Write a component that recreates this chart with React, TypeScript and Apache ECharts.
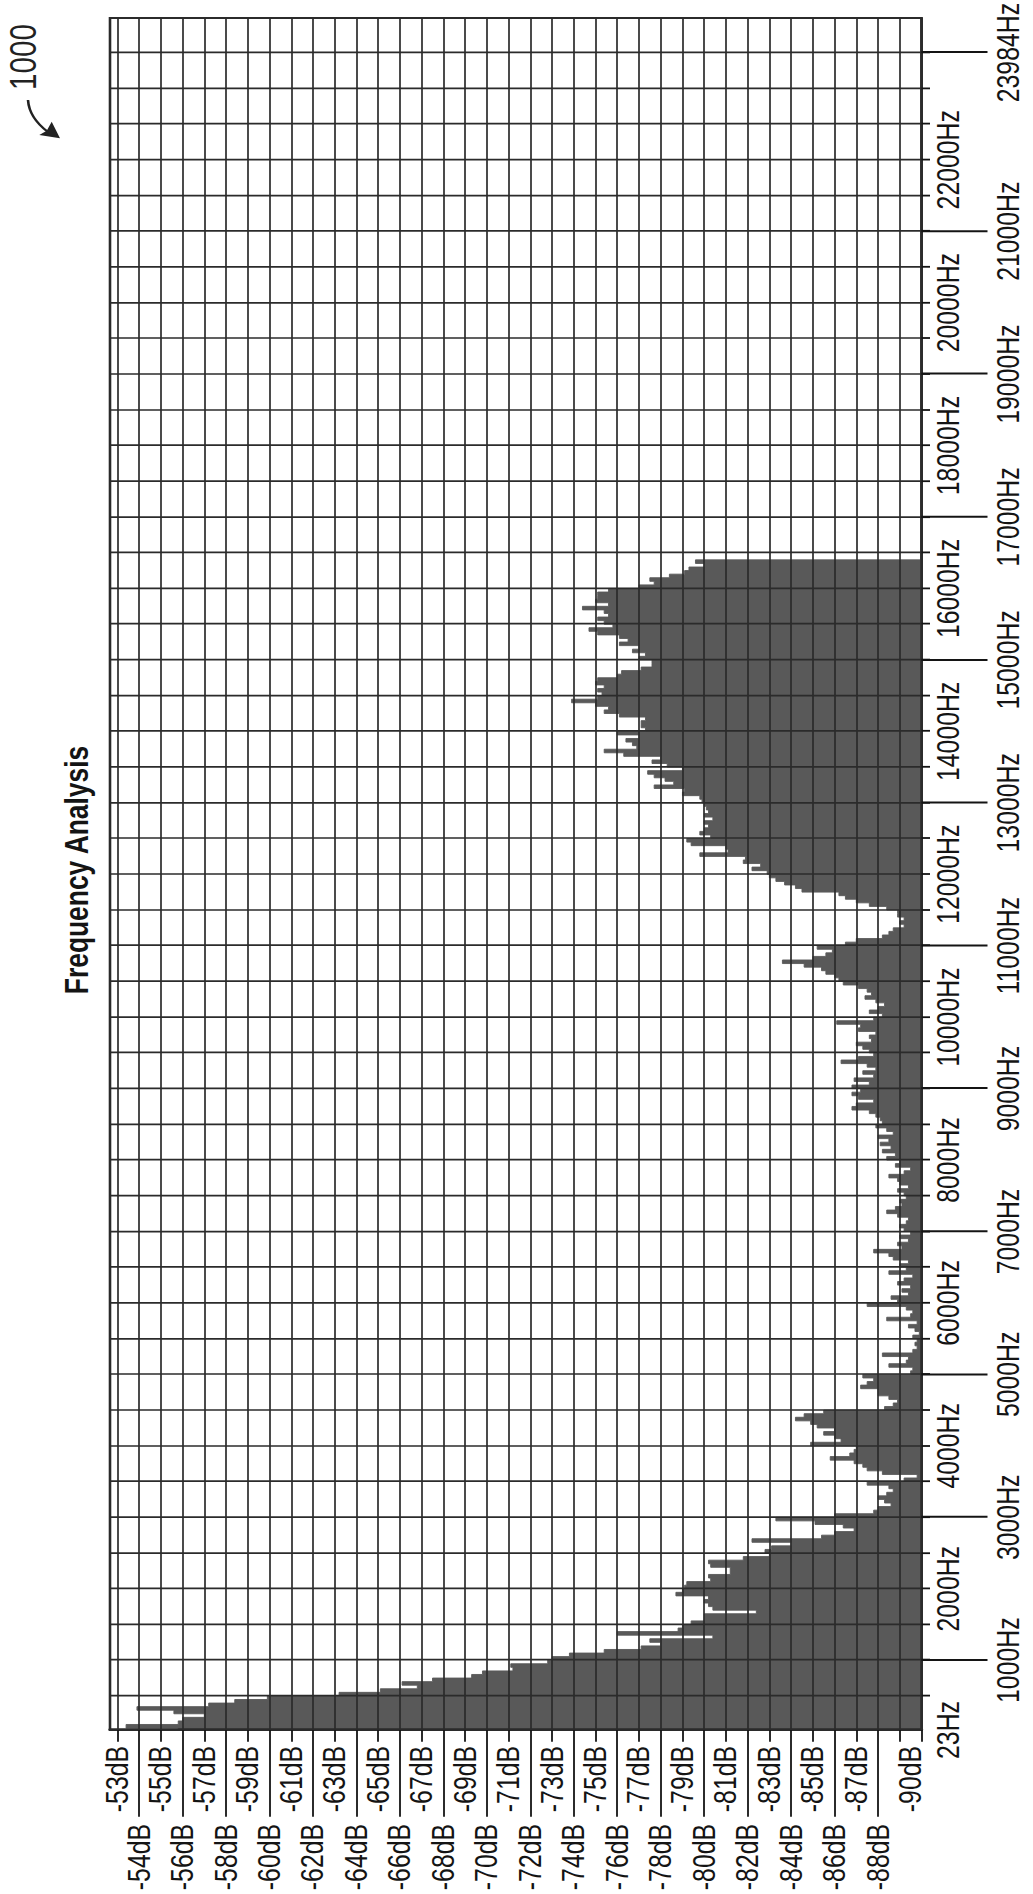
import React, { useEffect, useRef } from "react";
import * as echarts from "echarts";

// ---------------- data ----------------
const TITLE = "Frequency Analysis";
const FIGURE_REF = "1000";

const FREQ_MIN_HZ = 23;
const FREQ_MAX_HZ = 23984;
const DB_MIN = -90;
const DB_MAX = -52.66;
const BIN_WIDTH_HZ = 50;

// spectrum level (dB) of each 50 Hz bin; first bin starts at 0 Hz
const LEVELS_0_TO_5K = [
  -55.8, -53.4, -55.8, -56.0, -57.0, -55.6, -53.9, -57.2, -58.4, -59.9,
  -63.2, -65.1, -66.8, -66.1, -67.5, -69.3, -69.8, -71.2, -71.1, -72.8,
  -73.0, -73.8, -75.4, -77.1, -78.0, -77.5, -80.4, -76.0, -78.8, -79.0,
  -79.4, -80.0, -80.0, -82.4, -80.4, -80.2, -80.0, -80.2, -78.7, -79.0,
  -79.1, -79.2, -80.3, -80.2, -81.2, -81.2, -80.3, -80.2, -81.8, -83.0,
  -82.8, -83.1, -84.0, -82.2, -85.4, -86.0, -86.9, -86.4, -85.1, -83.3,
  -86.0, -87.8, -88.0, -88.6, -88.3, -88.0, -88.4, -88.7, -88.5, -87.5,
  -89.2, -89.8, -88.2, -87.5, -87.3, -86.9, -85.8, -86.7, -86.9, -87.0,
  -84.9, -86.3, -86.0, -85.5, -86.0, -85.2, -84.9, -84.2, -84.6, -85.5,
  -88.3, -88.7, -88.9, -88.5, -88.0, -88.0, -87.2, -87.5, -87.8, -87.3,
];
const LEVELS_5K_TO_10K = [
  -89.5, -89.6, -88.5, -89.3, -89.4, -88.2, -89.6, -89.8, -89.7, -89.8,
  -89.6, -89.9, -89.7, -89.4, -89.8, -88.4, -89.5, -89.6, -89.3, -87.5,
  -88.9, -88.6, -89.4, -89.1, -89.5, -88.9, -89.2, -89.6, -88.5, -89.3,
  -89.0, -89.4, -88.7, -88.5, -87.8, -89.1, -88.9, -89.4, -89.0, -89.5,
  -89.2, -89.0, -89.3, -89.4, -88.9, -88.4, -88.8, -89.1, -89.0, -89.3,
  -89.2, -88.9, -89.4, -89.0, -88.9, -88.5, -89.2, -89.5, -88.8, -89.0,
  -88.4, -88.8, -88.2, -88.6, -88.1, -88.5, -88.0, -88.7, -88.4, -87.9,
  -88.2, -88.1, -87.9, -87.6, -86.8, -87.0, -87.8, -87.1, -86.8, -87.2,
  -86.8, -87.6, -86.9, -87.8, -87.3, -87.9, -87.5, -86.3, -87.1, -87.8,
  -87.6, -87.3, -87.0, -87.7, -87.6, -87.9, -87.1, -87.2, -86.1, -87.8,
];
const LEVELS_10K_TO_16K4 = [
  -88.2, -87.6, -88.0, -88.3, -87.9, -87.4, -87.7, -87.5, -87.1, -86.4,
  -86.2, -86.0, -85.6, -85.4, -84.6, -83.6, -85.0, -85.6, -85.9, -85.2,
  -86.5, -87.0, -88.2, -88.5, -88.7, -89.2, -89.0, -89.2, -88.9, -88.9,
  -88.4, -87.6, -87.0, -86.5, -86.2, -84.5, -84.2, -83.7, -83.3, -83.0,
  -82.9, -82.2, -82.6, -81.8, -81.9, -79.8, -81.1, -81.0, -79.4, -79.2,
  -80.3, -79.8, -80.0, -80.2, -80.0, -80.4, -80.0, -80.2, -80.1, -80.0,
  -79.9, -79.8, -79.0, -79.1, -77.7, -78.6, -78.2, -77.7, -77.4, -79.0,
  -78.3, -77.6, -78.0, -76.3, -75.4, -76.9, -76.7, -76.4, -77.0, -76.0,
  -77.3, -77.1, -77.1, -77.3, -76.1, -75.4, -75.6, -75.0, -73.9, -75.1,
  -75.3, -75.1, -75.4, -75.0, -75.1, -76.0, -76.2, -77.1, -77.6, -77.6,
  -77.0, -77.3, -76.7, -77.0, -76.1, -76.5, -76.1, -75.1, -74.7, -75.8,
  -75.4, -75.1, -75.6, -75.4, -74.4, -75.6, -75.0, -75.1, -75.1, -75.6,
  -77.0, -77.7, -77.5, -78.4, -79.1, -79.3, -80.0, -79.6,
];

// tick positions and labels
const HZ_TICKS = [
  500, 1000, 1500, 2000, 2500, 3000, 3500, 4000, 4500, 5000, 5500, 6000,
  6500, 7000, 7500, 8000, 8500, 9000, 9500, 10000, 10500, 11000, 11500, 12000,
  12500, 13000, 13500, 14000, 14500, 15000, 15500, 16000, 16500, 17000, 17500,
  18000, 18500, 19000, 19500, 20000, 20500, 21000, 21500, 22000, 22500, 23000, 23500,
];
const HZ_INNER_LABELS = [23, 2000, 4000, 6000, 8000, 10000, 12000, 14000, 16000, 18000, 20000, 22000];
const HZ_OUTER_LABELS = [1000, 3000, 5000, 7000, 9000, 11000, 13000, 15000, 17000, 19000, 21000, 23500];
const HZ_OUTER_TEXT = ["1000Hz", "3000Hz", "5000Hz", "7000Hz", "9000Hz", "11000Hz", "13000Hz", "15000Hz", "17000Hz", "19000Hz", "21000Hz", "23984Hz"];
const DB_NEAR_TICKS = [-53, -55, -57, -59, -61, -63, -65, -67, -69, -71, -73, -75, -77, -79, -81, -83, -85, -87, -89, -90];
const DB_NEAR_LABELS = [-53, -55, -57, -59, -61, -63, -65, -67, -69, -71, -73, -75, -77, -79, -81, -83, -85, -87, -90];
const DB_FAR_LABELS = [-54, -56, -58, -60, -62, -64, -66, -68, -70, -72, -74, -76, -78, -80, -82, -84, -86, -88];

// ---------------- layout ----------------
const PAGE_W = 1033;
const PAGE_H = 1894;
const K = 0.8; // horizontal condensation of the chart frame (narrow type face)
const CW = PAGE_H / K;
const CH = PAGE_W;
const fx = (v: number) => v / K;

const FONT = "'Liberation Sans', Arial, Helvetica, sans-serif";
const INK = "#141414";
const GRID = "#2b2b2b";
const FILL = "#595959";
const FS = 31;

const labelStyle = { fontFamily: FONT, fontSize: FS, color: INK };

function buildOption() {
  const levels = [...LEVELS_0_TO_5K, ...LEVELS_5K_TO_10K, ...LEVELS_10K_TO_16K4];
  const data: number[][] = levels.map((v, i) => [i * BIN_WIDTH_HZ, v]);
  data.push([levels.length * BIN_WIDTH_HZ, DB_MIN]);

  const hzFmt = (v: number) => `${v}Hz`;
  const outerFmt = (v: number) => {
    const i = HZ_OUTER_LABELS.indexOf(v);
    return i >= 0 ? HZ_OUTER_TEXT[i] : `${v}Hz`;
  };

  return {
    animation: false,
    backgroundColor: "#ffffff",
    title: {
      text: TITLE,
      left: fx(1020),
      top: 55,
      textAlign: "center",
      textStyle: { fontFamily: FONT, fontWeight: "bold", fontSize: 33, color: INK },
    },
    grid: {
      left: fx(164),
      right: fx(18),
      top: 110,
      bottom: CH - 921.5,
      show: true,
      borderColor: GRID,
      borderWidth: 2.6,
      backgroundColor: "transparent",
      containLabel: false,
      outerBoundsMode: "none",
    },
    xAxis: [
      {
        type: "value",
        min: FREQ_MIN_HZ,
        max: FREQ_MAX_HZ,
        position: "bottom",
        z: 5,
        axisLine: { show: true, onZero: false, lineStyle: { color: GRID, width: 2.6 } },
        axisTick: { show: true, customValues: HZ_TICKS, length: 8.5, lineStyle: { color: INK, width: fx(1.8) } },
        splitLine: { show: true, lineStyle: { color: GRID, width: fx(1.7) } },
        axisLabel: { ...labelStyle, customValues: HZ_INNER_LABELS, margin: 11, formatter: hzFmt },
      },
      {
        type: "value",
        min: FREQ_MIN_HZ,
        max: FREQ_MAX_HZ,
        position: "bottom",
        z: 5,
        axisLine: { show: false, onZero: false },
        axisTick: { show: true, customValues: HZ_OUTER_LABELS, length: 66, lineStyle: { color: INK, width: fx(2) } },
        splitLine: { show: false },
        axisLabel: { ...labelStyle, customValues: HZ_OUTER_LABELS, margin: 71, formatter: outerFmt },
      },
    ],
    yAxis: [
      {
        type: "value",
        min: DB_MIN,
        max: DB_MAX,
        interval: 1,
        position: "left",
        z: 5,
        axisLine: { show: true, onZero: false, lineStyle: { color: GRID, width: fx(2.6) } },
        axisTick: { show: false },
        splitLine: { show: true, lineStyle: { color: GRID, width: 1.7 } },
        axisLabel: { show: false },
      },
      {
        type: "value",
        min: DB_MIN,
        max: DB_MAX,
        position: "left",
        z: 5,
        axisLine: { show: false, onZero: false },
        axisTick: { show: true, customValues: DB_NEAR_TICKS, length: fx(11.7), lineStyle: { color: INK, width: 1.8 } },
        splitLine: { show: false },
        axisLabel: {
          ...labelStyle,
          customValues: DB_NEAR_LABELS,
          margin: fx(16),
          formatter: (v: number) => (v === DB_MIN ? `{lift|${v}dB}` : `${v}dB`),
          rich: { lift: { ...labelStyle, padding: [0, 0, 22, 0] } },
        },
      },
      {
        type: "value",
        min: DB_MIN,
        max: DB_MAX,
        position: "left",
        z: 5,
        axisLine: { show: false, onZero: false },
        axisTick: { show: true, customValues: DB_FAR_LABELS, length: fx(86.7), lineStyle: { color: INK, width: 1.8 } },
        splitLine: { show: false },
        axisLabel: { ...labelStyle, customValues: DB_FAR_LABELS, margin: fx(94), formatter: (v: number) => `${v}dB` },
      },
    ],
    series: [
      {
        type: "line",
        xAxisIndex: 0,
        yAxisIndex: 0,
        data,
        step: "end",
        symbol: "none",
        z: 2,
        clip: true,
        lineStyle: { color: FILL, width: 1 },
        areaStyle: { color: FILL, opacity: 1, origin: "start" },
        silent: true,
      },
    ],
    graphic: [
      {
        type: "text",
        x: fx(1837),
        y: 23,
        style: { text: FIGURE_REF, fontFamily: FONT, fontSize: 37, fill: "#222", align: "center", verticalAlign: "middle" },
      },
      {
        type: "bezierCurve",
        shape: { x1: fx(1794), y1: 28, cpx1: fx(1779), cpy1: 29, cpx2: fx(1768), cpy2: 40, x2: fx(1762), y2: 48 },
        style: { stroke: "#222", lineWidth: 2.6, fill: null },
      },
      {
        type: "polygon",
        shape: { points: [[fx(1755.7), 60], [fx(1759), 39.3], [fx(1763.3), 46.7], [fx(1772.3), 51.7]] },
        style: { fill: "#222" },
      },
    ],
  };
}

export default function App() {
  const ref = useRef<HTMLDivElement>(null);
  useEffect(() => {
    if (!ref.current) return;
    const chart = echarts.init(ref.current, undefined, { renderer: "svg", width: CW, height: CH });
    chart.setOption(buildOption() as any);
    return () => chart.dispose();
  }, []);
  return (
    <div style={{ position: "fixed", left: 0, top: 0, width: PAGE_W, height: PAGE_H, overflow: "hidden", background: "#fff" }}>
      <div
        ref={ref}
        style={{
          position: "absolute",
          left: 0,
          top: 0,
          width: CW,
          height: CH,
          transformOrigin: "0 0",
          transform: `translate(0px, ${PAGE_H}px) rotate(-90deg) scaleX(${K})`,
        }}
      />
    </div>
  );
}
